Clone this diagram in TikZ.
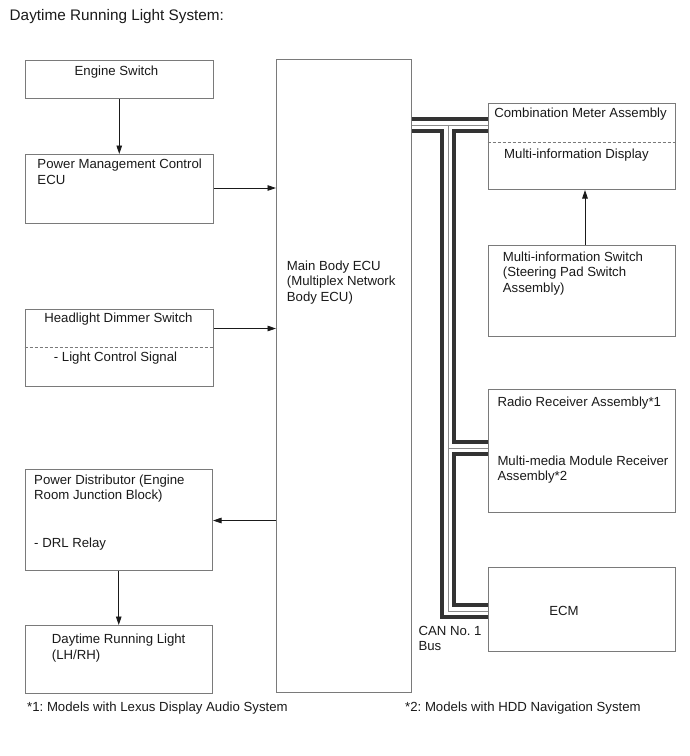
\documentclass[tikz,border=0pt]{standalone}
\usepackage{fontspec}
\setmainfont{Liberation Sans}
\usetikzlibrary{arrows.meta}
\frenchspacing
\definecolor{boxgray}{HTML}{7A7A7A}
\definecolor{txt}{HTML}{1A1A1A}
\definecolor{busdark}{HTML}{333333}
\definecolor{busmid}{HTML}{8C8C8C}
\tikzset{
  box/.style={draw=boxgray, line width=1pt, inner sep=0pt, anchor=north west},
  lbl/.style={inner sep=0pt, text=txt, font=\fontsize{13.2}{15.7}\selectfont},
  lw/.style={lbl, anchor=base west},
  lc/.style={lbl, anchor=base},
  arr/.style={draw=txt, line width=0.8pt, -{Triangle[length=8.5pt,width=5.5pt]}},
  dsh/.style={draw=boxgray, line width=0.8pt, dash pattern=on 3pt off 2pt},
  busA/.style={draw=busdark, line width=15.4pt},
  busB/.style={draw=white, line width=8.6pt},
  busC/.style={draw=busmid, line width=1pt},
}
\begin{document}
\begin{tikzpicture}[x=1pt,y=-1pt]
\useasboundingbox[fill=white] (0,0) rectangle (690,756);

% title
\node[lbl, anchor=base west, font=\fontsize{15.3}{18}\selectfont] (title) at (9.5,20.3) {Daytime Running Light System:};

% boxes
\node[box, minimum width=188.5pt, minimum height=38pt] (es) at (24.5,60) {};
\node[box, minimum width=188.5pt, minimum height=68.5pt] (pmc) at (24.5,154) {};
\node[box, minimum width=188.5pt, minimum height=77pt] (hds) at (24.5,309) {};
\node[box, minimum width=187.5pt, minimum height=101pt] (pd) at (24.5,469) {};
\node[box, minimum width=187.5pt, minimum height=68pt] (drl) at (24.5,625) {};
\node[box, minimum width=134.5pt, minimum height=633pt] (main) at (276,59) {};
\node[box, minimum width=187pt, minimum height=86pt] (cma) at (487.5,103) {};
\node[box, minimum width=187pt, minimum height=91pt] (mis) at (487.5,245) {};
\node[box, minimum width=187pt, minimum height=123pt] (rra) at (487.5,389) {};
\node[box, minimum width=187pt, minimum height=84pt] (ecm) at (487.5,567) {};

% dashed separators
\draw[dsh] (hds.west |- 0,347) -- (hds.east |- 0,347);
\draw[dsh] (cma.west |- 0,142) -- (cma.east |- 0,142);

% texts
\node[lc] (es-t) at (116.5,75) {Engine Switch};
\node[lw] (pmc-t1) at (37.3,168.3) {Power Management Control};
\node[lw] (pmc-t2) at (37.3,184) {ECU};
\node[lc] (hds-t1) at (118.4,322.5) {Headlight Dimmer Switch};
\node[lc] (hds-t2) at (115.5,361.5) {- Light Control Signal};
\node[lw] (main-t1) at (286.7,270) {Main Body ECU};
\node[lw] (main-t2) at (286.7,285.8) {(Multiplex Network};
\node[lw] (main-t3) at (286.7,301.6) {Body ECU)};
\node[lw] (pd-t1) at (34,484) {Power Distributor (Engine};
\node[lw] (pd-t2) at (34,499.5) {Room Junction Block)};
\node[lw] (pd-t3) at (34,547) {- DRL Relay};
\node[lw] (drl-t1) at (51.7,643.5) {Daytime Running Light};
\node[lw] (drl-t2) at (51.7,659.2) {(LH/RH)};
\node[lc] (cma-t1) at (580.5,117) {Combination Meter Assembly};
\node[lw] (cma-t2) at (504,158) {Multi-information Display};
\node[lw] (mis-t1) at (502.7,261) {Multi-information Switch};
\node[lw] (mis-t2) at (502.7,276.7) {(Steering Pad Switch};
\node[lw] (mis-t3) at (502.7,292.4) {Assembly)};
\node[lw] (rra-t1) at (497.3,406) {Radio Receiver Assembly*1};
\node[lw] (rra-t2) at (497.3,465) {Multi-media Module Receiver};
\node[lw] (rra-t3) at (497.3,480.7) {Assembly*2};
\node[lc] (ecm-t) at (564,615) {ECM};
\node[lw] (can-t1) at (418.3,635) {CAN No. 1};
\node[lw] (can-t2) at (418.3,650.7) {Bus};
\node[lw] (fn1) at (27,711.5) {*1: Models with Lexus Display Audio System};
\node[lw] (fn2) at (405,711.5) {*2: Models with HDD Navigation System};

% arrows
\draw[arr] (es.south) -- (pmc.north);
\draw[arr] (pmc.east |- 0,188) -- (main.west |- 0,188);
\draw[arr] (hds.east |- 0,328.5) -- (main.west |- 0,328.5);
\draw[arr] (main.west |- 0,520.5) -- (pd.east |- 0,520.5);
\draw[arr] (pd.south) -- (drl.north);
\draw[arr] ([xshift=3.5pt]mis.north) -- ([xshift=3.5pt]cma.south);

% CAN bus
\coordinate (bA) at (main.east |- 0,125);
\coordinate (bB) at (cma.west |- 0,125);
\coordinate (bT) at (448,125);
\coordinate (bR) at (448,448);
\coordinate (bRe) at (rra.west |- 0,448);
\coordinate (bE) at (448,611);
\coordinate (bEe) at (ecm.west |- 0,611);
\foreach \s in {busA,busB,busC}{
  \draw[\s] (bA) -- (bB);
  \draw[\s] (bT) -- (bE) -- (bEe);
  \draw[\s] (bR) -- (bRe);
}
\end{tikzpicture}
\end{document}
